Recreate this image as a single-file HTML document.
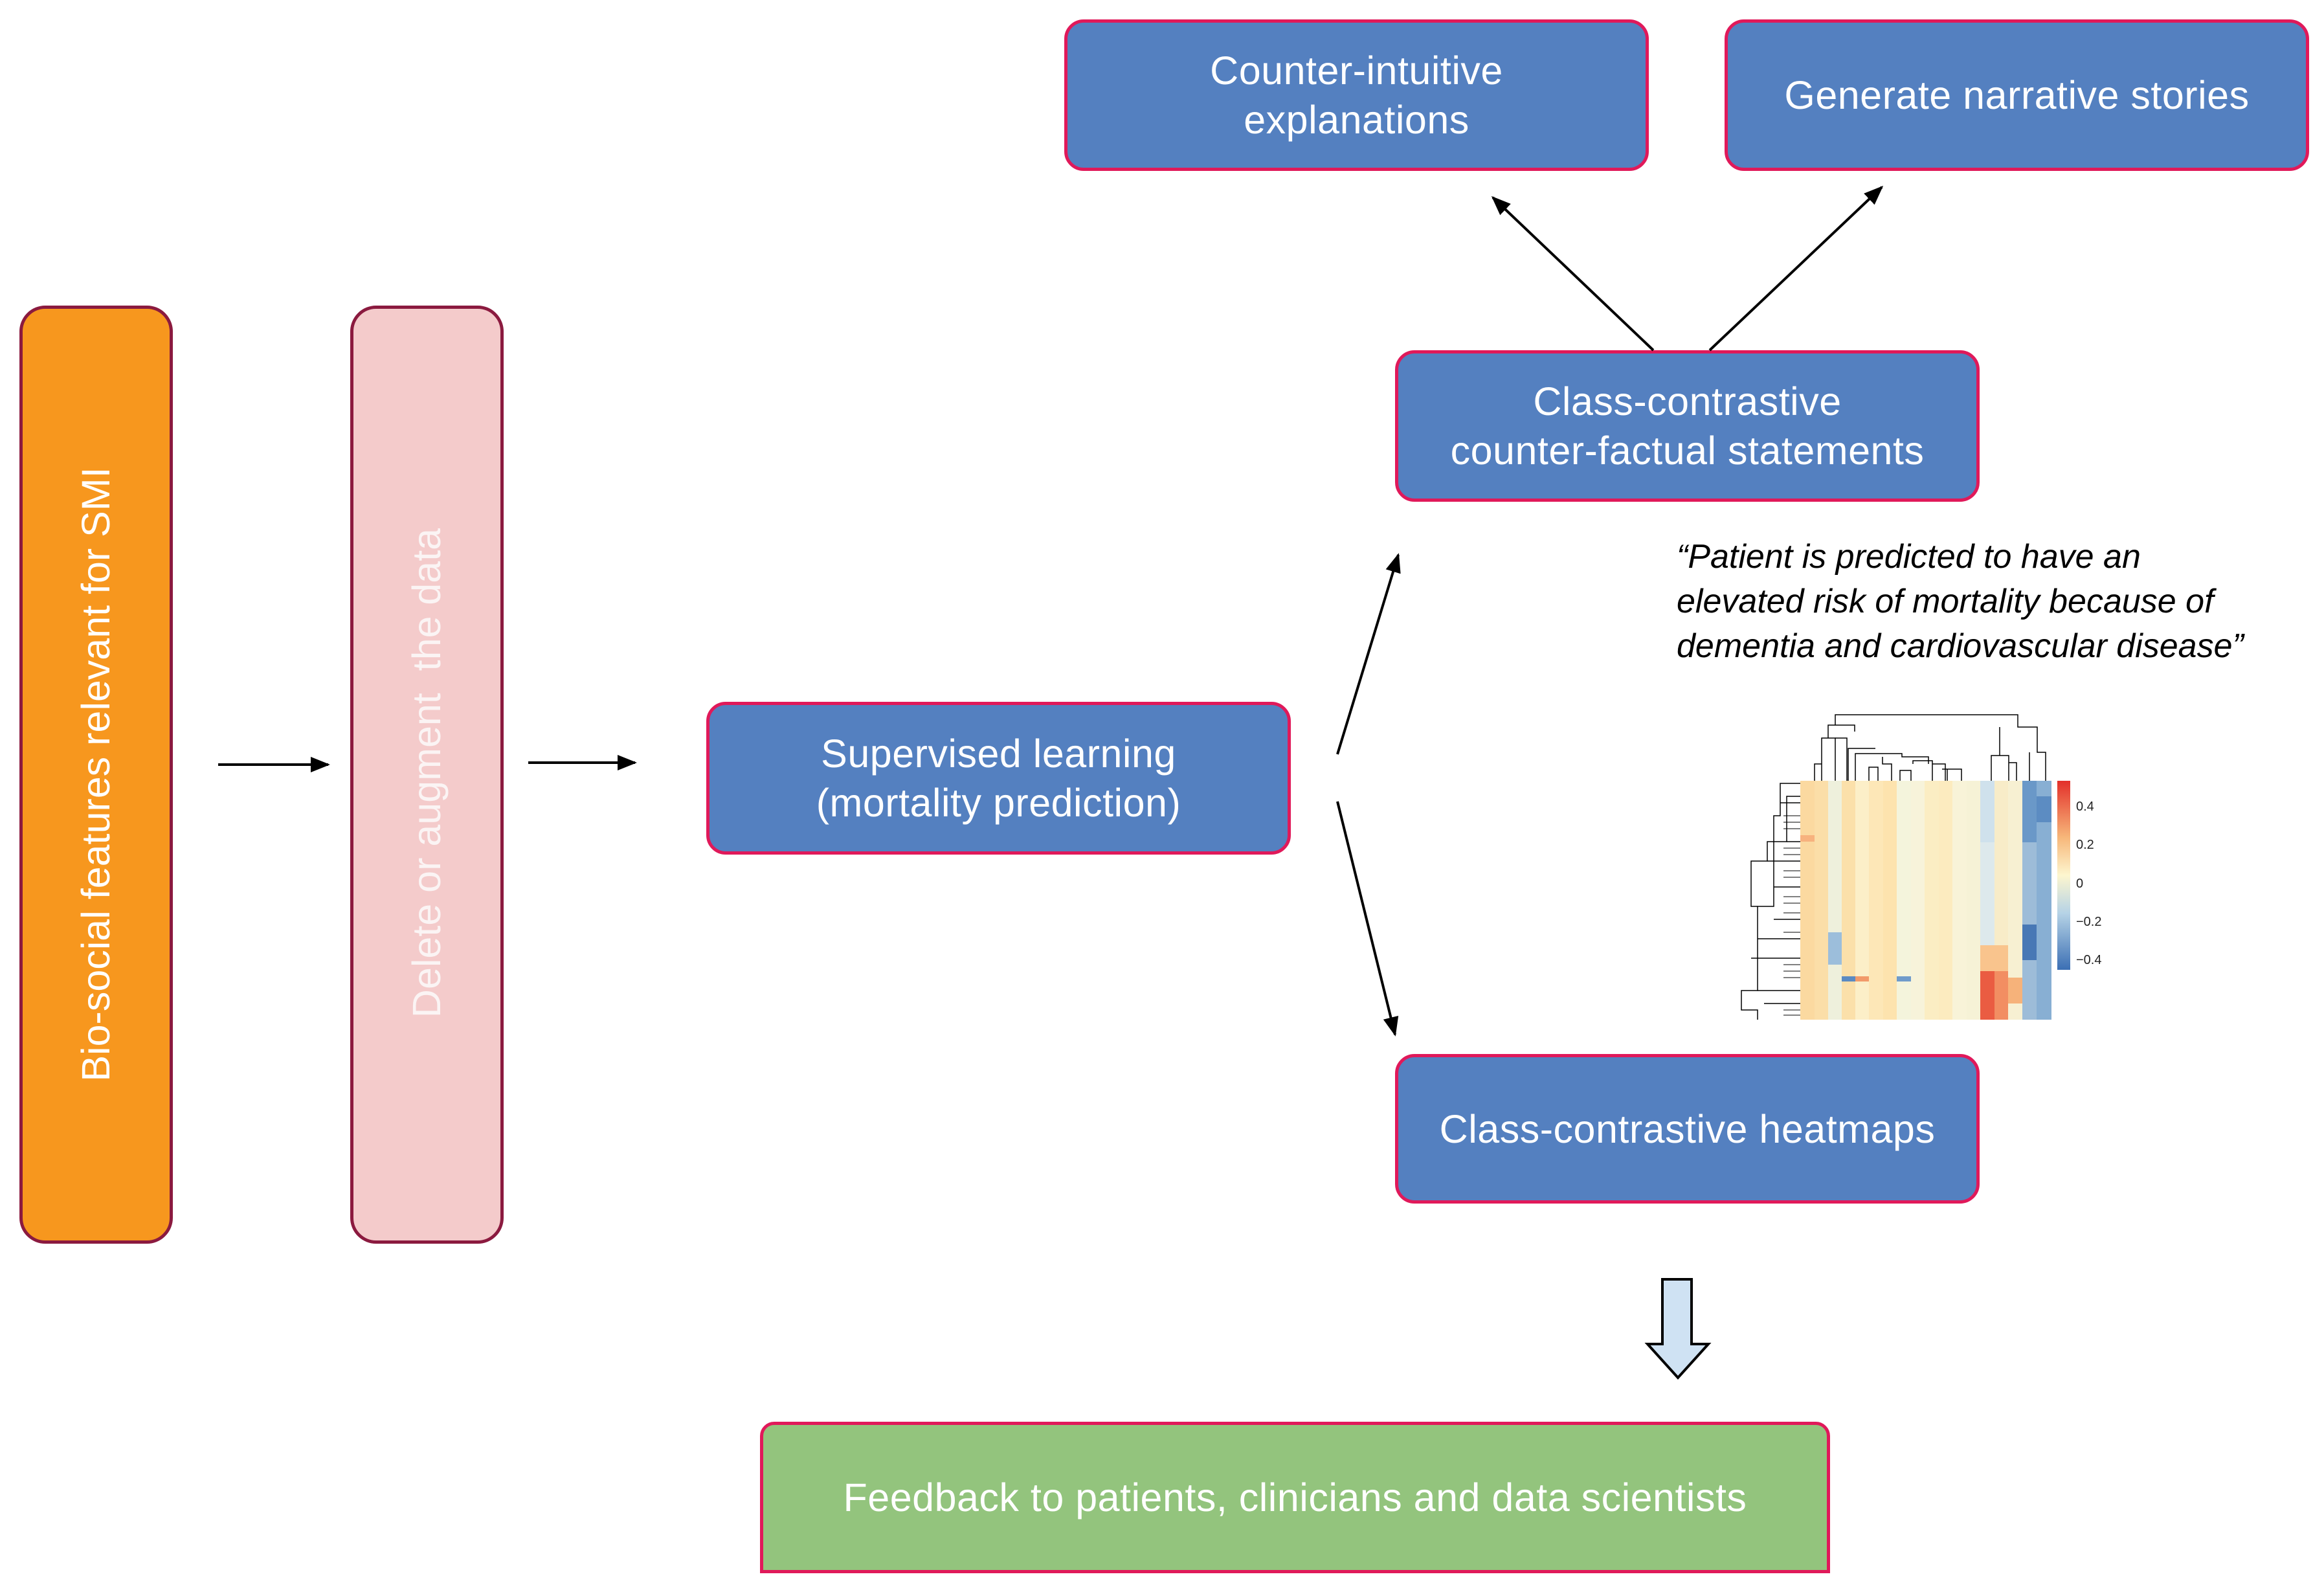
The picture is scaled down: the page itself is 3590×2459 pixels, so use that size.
<!DOCTYPE html>
<html><head><meta charset="utf-8"><style>
html,body{margin:0;padding:0;background:#fff}
body{width:3590px;height:2459px;position:relative;overflow:hidden;font-family:"Liberation Sans",sans-serif}
.b{position:absolute;box-sizing:border-box;display:flex;align-items:center;justify-content:center;text-align:center;color:#fff;font-size:61px;line-height:76px;letter-spacing:0.5px}
.blue{background:#5480c0;border:5px solid #e0195a;border-radius:30px}
.v{position:absolute;white-space:nowrap;color:#fff;font-size:61px;transform:translate(-50%,-50%) rotate(-90deg)}
</style></head><body>
<div class="b" style="left:30px;top:472px;width:237px;height:1449px;background:#f7971e;border:5px solid #8b1a3f;border-radius:40px"></div>
<div class="v" style="left:148px;top:1196px">Bio-social features relevant for SMI</div>
<div class="b" style="left:541px;top:472px;width:237px;height:1449px;background:#f4cbcb;border:5px solid #8b1a3f;border-radius:40px"></div>
<div class="v" style="left:659px;top:1194px;color:#fbf4f4">Delete or augment&nbsp; the data</div>

<div class="b blue" style="left:1091px;top:1084px;width:903px;height:236px">Supervised learning<br>(mortality prediction)</div>
<div class="b blue" style="left:2155px;top:541px;width:903px;height:234px">Class-contrastive<br>counter-factual statements</div>
<div class="b blue" style="left:1644px;top:30px;width:903px;height:234px">Counter-intuitive<br>explanations</div>
<div class="b blue" style="left:2664px;top:30px;width:903px;height:234px">Generate narrative stories</div>
<div class="b blue" style="left:2155px;top:1628px;width:903px;height:231px">Class-contrastive heatmaps</div>
<div class="b" style="left:1174px;top:2196px;width:1653px;height:234px;background:#93c47d;border:5px solid #e0195a;border-radius:22px 22px 0 0">Feedback to patients, clinicians and data scientists</div>

<div style="position:absolute;left:2590px;top:826px;font-style:italic;font-size:52px;line-height:69px;color:#000;white-space:nowrap">“Patient is predicted to have an<br>elevated risk of mortality because of<br>dementia and cardiovascular disease”</div>

<svg width="3590" height="2459" style="position:absolute;left:0;top:0">
<defs>
<marker id="h" viewBox="0 0 10 8" refX="9" refY="4" markerWidth="30" markerHeight="24" orient="auto" markerUnits="userSpaceOnUse"><path d="M0,0 L10,4 L0,8z" fill="#000"/></marker></defs>
<g stroke="#000" stroke-width="4" fill="none" marker-end="url(#h)">
<line x1="337" y1="1181" x2="507" y2="1181"/>
<line x1="816" y1="1178" x2="981" y2="1178"/>
<line x1="2066" y1="1165" x2="2160" y2="857"/>
<line x1="2066" y1="1238" x2="2155" y2="1598"/>
<line x1="2554" y1="541" x2="2306" y2="305"/>
<line x1="2641" y1="541" x2="2907" y2="289"/>
</g>
<path d="M2568,1976 H2613 V2076 H2639 L2592,2128 L2545,2076 H2568Z" fill="#cfe2f3" stroke="#000" stroke-width="4"/>

<g shape-rendering="crispEdges">
<rect x="2781" y="1206" width="388" height="369" fill="#fcf1cf"/>
<rect x="2781" y="1206" width="22" height="369" fill="#fbd9a0"/>
<rect x="2803" y="1206" width="21" height="369" fill="#fbdea8"/>
<rect x="2824" y="1206" width="21" height="369" fill="#eef0dc"/>
<rect x="2845" y="1206" width="21" height="369" fill="#fbe0aa"/>
<rect x="2866" y="1206" width="21" height="369" fill="#fcefc8"/>
<rect x="2887" y="1206" width="22" height="369" fill="#fde7b7"/>
<rect x="2909" y="1206" width="21" height="369" fill="#fde3ae"/>
<rect x="2930" y="1206" width="22" height="369" fill="#f4f4dc"/>
<rect x="2952" y="1206" width="21" height="369" fill="#f7f3da"/>
<rect x="2973" y="1206" width="22" height="369" fill="#fbedc3"/>
<rect x="2995" y="1206" width="21" height="369" fill="#fcebbf"/>
<rect x="3016" y="1206" width="22" height="369" fill="#f8f3d8"/>
<rect x="3038" y="1206" width="21" height="369" fill="#f6f2d6"/>
<rect x="3059" y="1206" width="22" height="369" fill="#dde9ec"/>
<rect x="3081" y="1206" width="21" height="369" fill="#f8ecc8"/>
<rect x="3102" y="1206" width="22" height="369" fill="#f7f0d2"/>
<rect x="3124" y="1206" width="22" height="369" fill="#9dbcd8"/>
<rect x="3146" y="1206" width="23" height="369" fill="#88afd3"/>
<rect x="3124" y="1206" width="22" height="95" fill="#6a98c8"/>
<rect x="3124" y="1428" width="22" height="55" fill="#4878b5"/>
<rect x="3146" y="1230" width="23" height="40" fill="#5c8cc2"/>
<rect x="3059" y="1500" width="22" height="75" fill="#ea5c42"/>
<rect x="3081" y="1500" width="21" height="75" fill="#f28e62"/>
<rect x="3102" y="1510" width="22" height="40" fill="#f6b27a"/>
<rect x="3059" y="1460" width="43" height="40" fill="#f9c48d"/>
<rect x="2824" y="1440" width="21" height="50" fill="#9cbedb"/>
<rect x="2845" y="1508" width="21" height="8" fill="#5b8ac2"/>
<rect x="2866" y="1508" width="21" height="8" fill="#f29a6a"/>
<rect x="2930" y="1508" width="22" height="8" fill="#6f9bcb"/>
<rect x="2781" y="1290" width="22" height="10" fill="#f7b27e"/>
<rect x="3059" y="1206" width="22" height="95" fill="#cfe1ec"/>
<rect x="3178" y="1206" width="20" height="292" fill="url(#cb)"/>
</g>
<defs><linearGradient id="cb" x1="0" y1="0" x2="0" y2="1"><stop offset="0" stop-color="#e3302a"/><stop offset="0.3" stop-color="#f7b77a"/><stop offset="0.5" stop-color="#fdf6cf"/><stop offset="0.7" stop-color="#b6d3e6"/><stop offset="1" stop-color="#3b6fb4"/></linearGradient></defs>
<g font-size="20" fill="#222" font-family="Liberation Sans,sans-serif">
<text x="3207" y="1252">0.4</text><text x="3207" y="1311">0.2</text><text x="3207" y="1371">0</text><text x="3207" y="1430">−0.2</text><text x="3207" y="1489">−0.4</text></g>
<g stroke="#000" stroke-width="1.5" fill="none">
<path d="M2835,1206V1140H2814V1206M2814,1140"/>
<path d="M2835,1140H2853V1206"/>
<path d="M2803,1206V1180H2814"/>
<path d="M2824,1140V1120H2865V1130"/>
<path d="M2855,1206V1156H2897V1156M2866,1206V1164H2938V1169H2979V1180"/>
<path d="M2887,1206V1185H2901V1206M2908,1169V1180H2922V1206"/>
<path d="M2935,1206V1190H2952V1206M2955,1180V1175H2985V1206M2985,1180H3005V1206M3008,1188V1206M3000,1188H3030V1206"/>
<path d="M2835,1120V1104H3117V1123H3147V1162H3160V1206M3135,1162V1206"/>
<path d="M3089,1123V1167H3076V1206M3089,1167H3103V1178H3115V1206M3103,1178V1206"/>
<path d="M2781,1210H2750V1260H2740V1400H2715V1530H2690V1560H2715V1575"/>
<path d="M2715,1400H2705V1330H2730V1300H2760V1230H2781"/>
<path d="M2760,1300H2781M2730,1330H2781M2750,1240H2781M2740,1370H2781M2740,1420H2781M2715,1450H2781M2705,1480H2781M2715,1530H2781M2725,1550H2781"/>
</g>
<g stroke="#000" stroke-width="1">
<path d="M2755,1260H2781M2755,1270H2781M2755,1280H2781M2755,1310H2781M2755,1320H2781M2755,1345H2781M2755,1355H2781M2755,1385H2781M2755,1395H2781M2755,1410H2781M2755,1440H2781M2755,1490H2781M2755,1500H2781M2755,1510H2781M2755,1560H2781M2755,1568H2781"/>
</g>
</svg>
</body></html>
